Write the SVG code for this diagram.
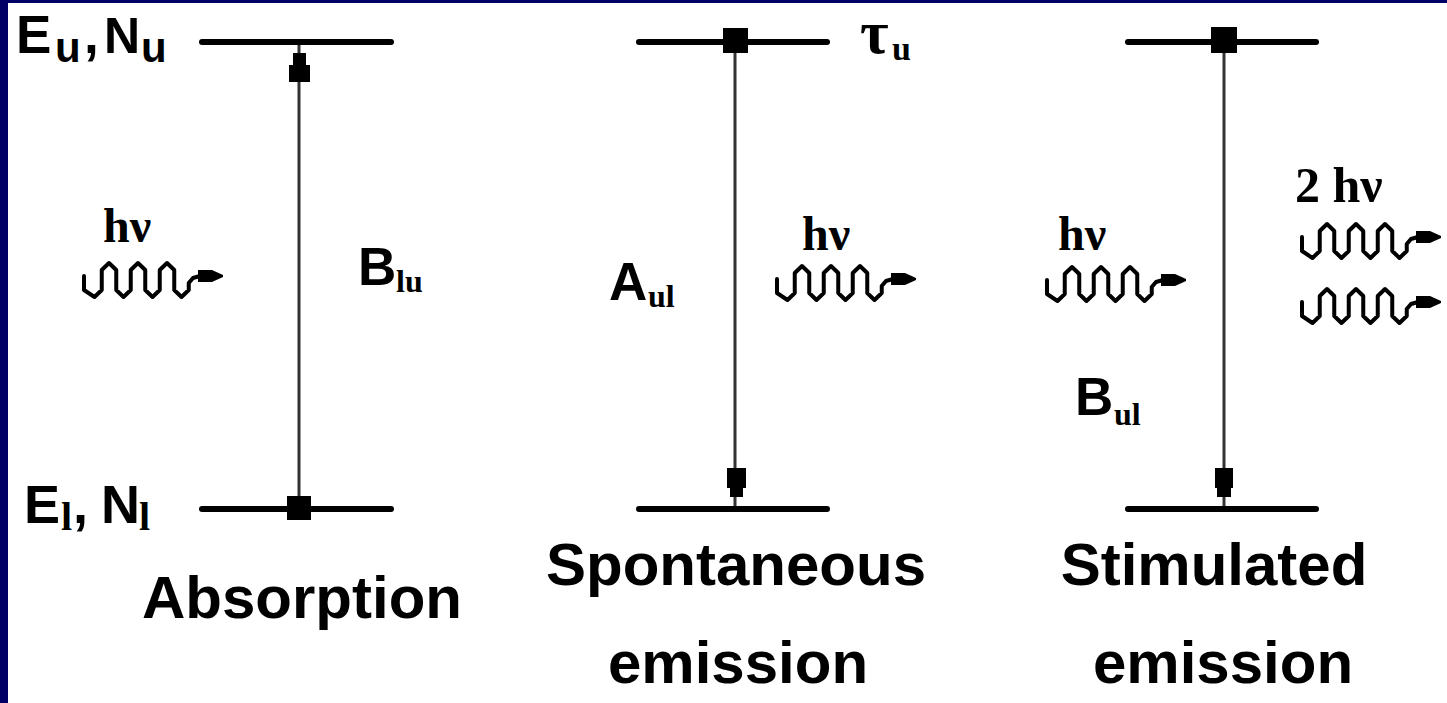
<svg xmlns="http://www.w3.org/2000/svg" xmlns:xlink="http://www.w3.org/1999/xlink" width="1447" height="703" viewBox="0 0 1447 703">
<style>
.lvl{stroke:#000;stroke-width:6;stroke-linecap:round;fill:none}
.tr{stroke:#333;stroke-width:3;fill:none}
.sq{fill:#000}
.sans{font-family:"Liberation Sans",Arial,sans-serif;font-weight:bold;fill:#000}
.serif{font-family:"Liberation Serif","Times New Roman",serif;font-weight:bold;fill:#000}
.cap{font-family:"Liberation Sans",Arial,sans-serif;font-weight:bold;font-size:60px;fill:#000}
.wave{stroke:#000;stroke-width:4;fill:none;stroke-linejoin:round;stroke-linecap:round}
</style>
<defs>
<g id="photon">
<path class="wave" d="M2,-4 L2,10 L12.5,17 L19.75,10 L19.75,-10 L27,-17 L34.25,-10 L34.25,10 L41.5,17 L48.75,10 L48.75,-10 L56,-17 L63.25,-10 L63.25,10 L70.5,17 L77.75,10 L77.75,-10 L85,-17 L92.25,-10 L92.25,10 L99.5,17 L106.75,10 L106.75,3 L111,-2 L118,-4"/>
<polygon points="116,-10 130,-10 141,-5 141,-3 130,2 116,2" fill="#000"/>
</g>
</defs>
<rect x="0" y="0" width="1447" height="703" fill="#000066"/>
<rect x="8" y="3" width="1439" height="700" fill="#fff"/>

<g id="connectors">
<line class="tr" x1="299" y1="45" x2="299" y2="508"/>
<polygon points="293,53 306,53 306,65 310,65 310,82 289,82 289,65 293,65" fill="#000"/>
<line class="tr" x1="735" y1="41" x2="735" y2="509"/>
<polygon points="727,468 746,468 746,488 743,488 743,497 730,497 730,488 727,488" fill="#000"/>
<line class="tr" x1="1224" y1="41" x2="1224" y2="509"/>
<polygon points="1215,468 1233,468 1233,488 1231,488 1231,497 1217,497 1217,488 1215,488" fill="#000"/>
</g>

<g id="absorption">
<line class="lvl" x1="202" y1="42" x2="391" y2="42"/>
<line class="lvl" x1="202" y1="509" x2="391" y2="509"/>
<rect class="sq" x="287" y="496" width="24" height="24"/>
<text class="sans" font-size="53" x="16" y="53">E</text>
<text class="sans" font-size="42" x="55" y="62">u</text>
<text class="sans" font-size="53" x="84" y="53">,</text>
<text class="sans" font-size="50" x="104" y="53">N</text>
<text class="sans" font-size="42" x="141" y="62">u</text>
<text class="sans" font-size="54" x="24" y="523">E</text>
<text class="serif" font-size="40" x="61" y="530">l</text>
<text class="sans" font-size="54" x="73" y="523">,</text>
<text class="sans" font-size="54" x="101" y="523">N</text>
<text class="serif" font-size="40" x="139" y="530">l</text>
<text class="serif" font-size="48" x="103" y="242">hν</text>
<use xlink:href="#photon" transform="translate(82,280)"/>
<text class="sans" font-size="53" x="358" y="285">B</text>
<text class="serif" font-size="32" x="396" y="292">lu</text>
<text class="cap" x="142" y="618">Absorption</text>
</g>

<g id="spontaneous">
<line class="lvl" x1="639" y1="42" x2="827" y2="42"/>
<line class="lvl" x1="639" y1="509" x2="827" y2="509"/>
<rect class="sq" x="723" y="28" width="25" height="25"/>
<text class="serif" font-size="62" x="860" y="53">τ</text>
<text class="serif" font-size="34" x="892" y="60">u</text>
<text class="sans" font-size="53" x="609" y="300">A</text>
<text class="serif" font-size="32" x="648" y="307">ul</text>
<text class="serif" font-size="48" x="802" y="250">hν</text>
<use xlink:href="#photon" transform="translate(775,283)"/>
<text class="cap" x="736" y="585" text-anchor="middle">Spontaneous</text>
<text class="cap" x="738" y="683" text-anchor="middle">emission</text>
</g>

<g id="stimulated">
<line class="lvl" x1="1128" y1="42" x2="1316" y2="42"/>
<line class="lvl" x1="1128" y1="509" x2="1316" y2="509"/>
<rect class="sq" x="1211" y="27" width="26" height="26"/>
<text class="serif" font-size="48" x="1058" y="250">hν</text>
<use xlink:href="#photon" transform="translate(1045,284)"/>
<text class="serif" font-size="50" x="1295" y="202">2 hν</text>
<use xlink:href="#photon" transform="translate(1300,241)"/>
<use xlink:href="#photon" transform="translate(1300,306)"/>
<text class="sans" font-size="53" x="1075" y="415">B</text>
<text class="serif" font-size="32" x="1114" y="425">ul</text>
<text class="cap" x="1214" y="585" text-anchor="middle">Stimulated</text>
<text class="cap" x="1223" y="683" text-anchor="middle">emission</text>
</g>
</svg>
